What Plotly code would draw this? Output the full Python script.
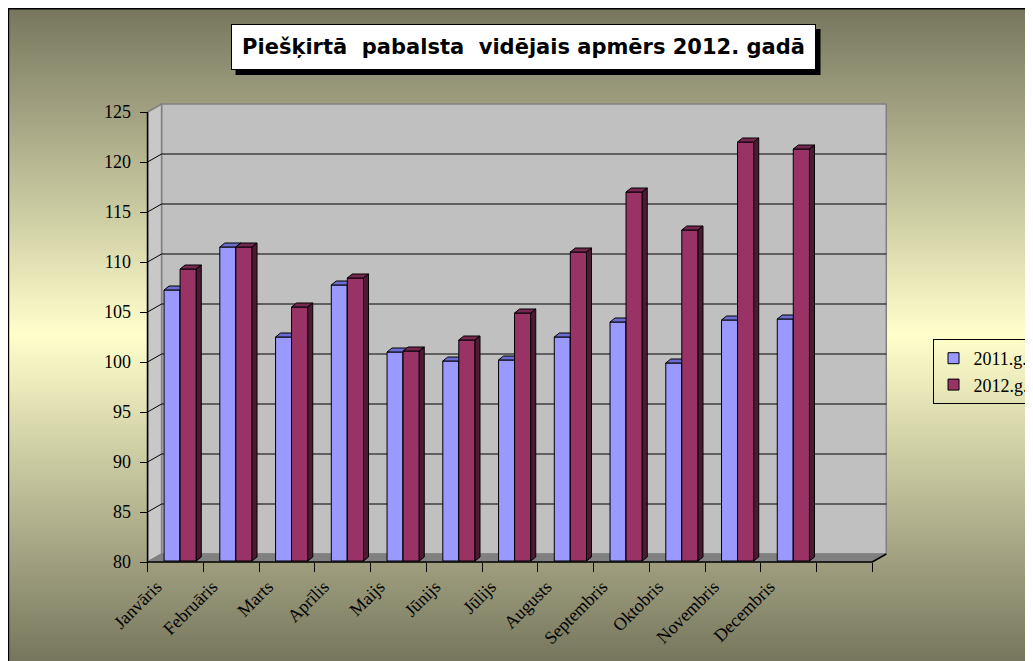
import plotly.graph_objects as go

# ---------------- data ----------------
months = ["Janvāris", "Februāris", "Marts", "Aprīlis", "Maijs", "Jūnijs",
          "Jūlijs", "Augusts", "Septembris", "Oktobris", "Novembris", "Decembris"]
vals_2011 = [107.2, 111.5, 102.5, 107.7, 101.0, 100.1, 100.2, 102.5, 104.0, 99.9, 104.2, 104.3]
vals_2012 = [109.3, 111.5, 105.5, 108.4, 101.1, 102.2, 104.9, 111.0, 117.0, 113.2, 122.0, 121.3]
series_names = ["2011.g.", "2012.g."]
y_ticks = [80, 85, 90, 95, 100, 105, 110, 115, 120, 125]
title_text = "Piešķirtā\u00a0 pabalsta\u00a0 vidējais apmērs 2012. gadā"

# ---------------- geometry (page pixels; page has an 8px body margin) ----------------
OFF = 8
W, H = 1033 - OFF, 661 - OFF
XR = [-0.1, 13.3]
YR = [79.7, 126.0]
PXX = 55.75   # px per category slot
PXY = 10.0    # px per value unit
ML = (148 - OFF) - (0 - XR[0]) * PXX
PW = (XR[1] - XR[0]) * PXX
MT = 102 - OFF
PH = (YR[1] - YR[0]) * PXY
MB = H - MT - PH
MR = W - ML - PW

def px_x(p):
    return (p - OFF - ML) / PW

def px_y(p):
    return (H - MB - (p - OFF)) / PH

YMIN, YMAX = 80, 125
NSLOT = 13
WDX = 14 / PXX   # wall depth
WDY = 8 / PXY
BDX = 5 / PXX    # bar depth
BDY = 4 / PXY
BASE = 80.1
A0, A1, A2 = 16.5 / PXX, 32.5 / PXX, 48.7 / PXX

C11 = ("#9999ff", "#6b6bd0", "#4d4d85")
C12 = ("#993366", "#782850", "#4d1a33")

def polys(values, xa, xb, kind):
    xs, ys = [], []
    for i, v in enumerate(values):
        xl, xr = i + xa, i + xb
        if kind == "front":
            px = [xl, xl, xr, xr, xl]
            py = [BASE, v, v, BASE, BASE]
        elif kind == "top":
            px = [xl, xl + BDX, xr + BDX, xr, xl]
            py = [v, v + BDY, v + BDY, v, v]
        else:
            px = [xr, xr, xr + BDX, xr + BDX, xr]
            py = [BASE, v, v + BDY, BASE + BDY, BASE]
        xs += px + [None]
        ys += py + [None]
    return xs, ys

fig = go.Figure()

def add_poly(values, xa, xb, kind, color):
    xs, ys = polys(values, xa, xb, kind)
    fig.add_trace(go.Scatter(x=xs, y=ys, mode="lines", fill="toself",
                             fillcolor=color, line=dict(color="black", width=1),
                             hoverinfo="skip", showlegend=False))

add_poly(vals_2011, A0, A1, "front", C11[0])
add_poly(vals_2011, A0, A1, "top", C11[1])
add_poly(vals_2011, A0, A1, "side", C11[2])
add_poly(vals_2012, A1, A2, "front", C12[0])
add_poly(vals_2012, A1, A2, "top", C12[1])
add_poly(vals_2012, A1, A2, "side", C12[2])

# legend proxies
for name, c in zip(series_names, (C11[0], C12[0])):
    fig.add_trace(go.Scatter(x=[None], y=[None], mode="markers", name=name,
                             marker=dict(symbol="square", size=11, color=c,
                                         line=dict(color="black", width=1))))

shapes = []
# gradient background
top, bot = 8, 661
center = (top + bot) / 2
half = (bot - top) / 2
light = (255, 255, 204)
dark = (118, 118, 94)
step = 3
y = top
while y < bot:
    t = min(1.0, abs(y + step / 2 - center) / half)
    col = tuple(int(round(light[k] + (dark[k] - light[k]) * t)) for k in range(3))
    shapes.append(dict(type="rect", xref="paper", yref="paper", layer="below",
                       x0=px_x(8), x1=px_x(1040), y0=px_y(y), y1=px_y(min(y + step + 0.5, bot + 4)),
                       fillcolor="rgb(%d,%d,%d)" % col, line=dict(width=0)))
    y += step
# outer border (left/top)
shapes.append(dict(type="line", xref="paper", yref="paper", layer="below",
                   x0=px_x(8.6), x1=px_x(8.6), y0=px_y(8), y1=px_y(670),
                   line=dict(color="black", width=2)))
shapes.append(dict(type="line", xref="paper", yref="paper", layer="below",
                   x0=px_x(8), x1=px_x(1040), y0=px_y(8.6), y1=px_y(8.6),
                   line=dict(color="black", width=2)))
# back wall
shapes.append(dict(type="rect", xref="x", yref="y", layer="below",
                   x0=WDX, x1=NSLOT + WDX, y0=YMIN + WDY, y1=YMAX + WDY,
                   fillcolor="#c0c0c0", line=dict(color="#808080", width=1.5)))
# left side wall
shapes.append(dict(type="path", xref="x", yref="y", layer="below",
                   path="M0,%g L0,%g L%g,%g L%g,%g Z" % (YMIN, YMAX, WDX, YMAX + WDY, WDX, YMIN + WDY),
                   fillcolor="#c8c8c8", line=dict(color="#808080", width=1.5)))
# floor
shapes.append(dict(type="path", xref="x", yref="y", layer="below",
                   path="M0,%g L%g,%g L%g,%g L%g,%g Z" % (YMIN, NSLOT, YMIN, NSLOT + WDX, YMIN + WDY, WDX, YMIN + WDY),
                   fillcolor="#808080", line=dict(color="#808080", width=1)))
# gridlines
for v in y_ticks[1:-1]:
    shapes.append(dict(type="path", xref="x", yref="y", layer="below",
                       path="M0,%g L%g,%g L%g,%g" % (v, WDX, v + WDY, NSLOT + WDX, v + WDY),
                       line=dict(color="black", width=1)))
# floor front + right edge, front axis line
shapes.append(dict(type="path", xref="x", yref="y", layer="below",
                   path="M0,%g L%g,%g L%g,%g" % (YMIN, NSLOT, YMIN, NSLOT + WDX, YMIN + WDY),
                   line=dict(color="black", width=1.5)))
shapes.append(dict(type="line", xref="x", yref="y", layer="below",
                   x0=0, x1=0, y0=YMIN, y1=YMAX, line=dict(color="black", width=1.5)))
# title shadow
bx0, bx1, by0, by1 = 231, 816, 24, 70
shapes.append(dict(type="rect", xref="paper", yref="paper", layer="above",
                   x0=px_x(bx0 + 5), x1=px_x(bx1 + 5), y0=px_y(by0 + 5), y1=px_y(by1 + 5),
                   fillcolor="black", line=dict(width=0)))

fig.update_layout(
    template="none",
    width=W, height=H,
    margin=dict(l=ML, r=MR, t=MT, b=MB, pad=0, autoexpand=False),
    paper_bgcolor="white",
    plot_bgcolor="rgba(0,0,0,0)",
    shapes=shapes,
    showlegend=True,
    legend=dict(x=px_x(933), y=px_y(339), xanchor="left", yanchor="top",
                bgcolor="rgba(0,0,0,0)", bordercolor="black", borderwidth=1,
                font=dict(family="Liberation Serif", size=18, color="black"),
                itemwidth=30, tracegroupgap=0),
    xaxis=dict(range=XR, anchor="free", position=(YMIN - YR[0]) / (YR[1] - YR[0]),
               tickmode="array", tickvals=[i + 0.16 for i in range(len(months))], ticktext=months,
               tickangle=-45, ticks="outside", ticklen=6, tickcolor="rgba(0,0,0,0)",
               showgrid=False, zeroline=False, showline=False, automargin=False,
               tickfont=dict(family="Liberation Serif", size=18, color="black"),
               minor=dict(tickmode="array", tickvals=list(range(NSLOT + 1)), ticks="outside",
                          ticklen=9, tickwidth=1, tickcolor="black", showgrid=False)),
    yaxis=dict(range=YR, anchor="free", position=(0 - XR[0]) / (XR[1] - XR[0]),
               tickmode="array", tickvals=y_ticks, ticks="outside", ticklen=8, tickwidth=1,
               tickcolor="black", showgrid=False, zeroline=False, showline=False, automargin=False,
               ticklabelstandoff=5,
               tickfont=dict(family="Liberation Serif", size=18, color="black")),
    annotations=[dict(xref="paper", yref="paper", x=px_x((bx0 + bx1) / 2), y=px_y((by0 + by1) / 2),
                      xanchor="center", yanchor="middle", text="<b>" + title_text + "</b>",
                      showarrow=False, bgcolor="white", bordercolor="black", borderwidth=1,
                      borderpad=0, width=bx1 - bx0 - 2, height=by1 - by0 - 2,
                      font=dict(family="DejaVu Sans", size=21, color="black"))],
)

fig.write_html("out.html")
